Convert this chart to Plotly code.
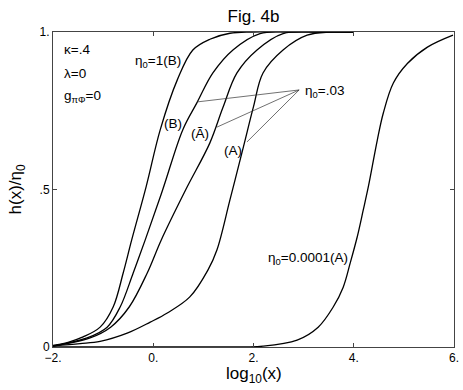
import plotly.graph_objects as go

# curves: log10(x) vs h(x)/eta0
x_eta1_B = [-2.0, -1.70, -1.40, -1.06, -0.80, -0.60, -0.43, -0.14, 0.14, 0.48, 0.79, 1.13, 1.53, 2.0, 4.0]
y_eta1_B = [0.005, 0.015, 0.032, 0.063, 0.127, 0.235, 0.34, 0.51, 0.69, 0.848, 0.943, 0.977, 0.996, 1.0, 1.0]

x_eta03_B = [-2.0, -1.32, -0.92, -0.66, -0.40, -0.16, 0.19, 0.59, 0.87, 1.19, 1.59, 2.13, 2.73, 4.0]
y_eta03_B = [0.003, 0.029, 0.063, 0.127, 0.235, 0.34, 0.50, 0.69, 0.775, 0.87, 0.943, 0.995, 1.0, 1.0]

x_eta03_At = [-2.0, -1.26, -0.85, -0.48, -0.12, 0.16, 0.65, 1.13, 1.39, 1.67, 2.07, 2.59, 3.33, 4.0]
y_eta03_At = [0.003, 0.029, 0.063, 0.127, 0.235, 0.34, 0.50, 0.648, 0.76, 0.87, 0.943, 0.995, 1.0, 1.0]

x_eta03_A = [-2.0, -1.46, -1.06, -0.52, -0.06, 0.28, 0.73, 1.09, 1.27, 1.53, 1.80, 2.0, 2.19, 2.59, 3.07, 3.53, 4.0]
y_eta03_A = [0.004, 0.011, 0.018, 0.044, 0.079, 0.108, 0.159, 0.244, 0.308, 0.467, 0.636, 0.763, 0.87, 0.943, 0.99, 1.0, 1.0]

x_eta0001_A = [-2.0, 1.07, 2.19, 2.87, 3.29, 3.59, 3.79, 3.93, 4.07, 4.19, 4.29, 4.47, 4.59, 4.79, 5.07, 5.47, 5.98]
y_eta0001_A = [0.0, 0.0, 0.003, 0.022, 0.063, 0.127, 0.19, 0.267, 0.35, 0.435, 0.508, 0.657, 0.743, 0.838, 0.90, 0.952, 0.99]

curves = [
    (x_eta1_B, y_eta1_B),
    (x_eta03_B, y_eta03_B),
    (x_eta03_At, y_eta03_At),
    (x_eta03_A, y_eta03_A),
    (x_eta0001_A, y_eta0001_A),
]

# pointer lines from the eta0=.03 label to its three curves
pointer_apex = (2.91, 0.816)
pointer_ends = [(0.874, 0.778), (1.27, 0.698), (1.87, 0.651)]

x_tickvals = [-2, 0, 2, 4, 6]
x_ticktext = ["\u22122.", "0.", "2.", "4.", "6."]
y_tickvals = [0, 0.5, 1]
y_ticktext = ["0", ".5", "1."]

FONT = "Liberation Sans, Arial, sans-serif"
LABEL_SIZE = 13.5

fig = go.Figure()
for xs, ys in curves:
    fig.add_trace(go.Scatter(x=xs, y=ys, mode="lines",
                             line=dict(color="black", width=1.3, shape="spline", smoothing=1.0),
                             hoverinfo="skip"))

for ex, ey in pointer_ends:
    fig.add_trace(go.Scatter(x=[pointer_apex[0], ex], y=[pointer_apex[1], ey], mode="lines",
                             line=dict(color="#333", width=0.7), hoverinfo="skip"))

labels = [
    (-1.82, 0.943, "\u03ba=.4"),
    (-1.82, 0.867, "\u03bb=0"),
    (-1.82, 0.795, "g<sub>\u03c0\u03a6</sub>=0"),
    (-0.40, 0.905, "\u03b7<sub>0</sub>=1(B)"),
    (2.99, 0.81, "\u03b7<sub>0</sub>=.03"),
    (2.25, 0.28, "\u03b7<sub>0</sub>=0.0001(A)"),
]
for lx, ly, txt in labels:
    fig.add_annotation(x=lx, y=ly, text=txt, showarrow=False, xanchor="left", yanchor="middle",
                       font=dict(size=LABEL_SIZE, color="black", family=FONT))

for lx, ly, txt in [(0.395, 0.711, "(B)"), (0.934, 0.679, "(\u00c3)"), (1.593, 0.625, "(A)")]:
    fig.add_annotation(x=lx, y=ly, text=txt, showarrow=False, xanchor="center", yanchor="middle",
                       font=dict(size=LABEL_SIZE, color="black", family=FONT))

# axis titles placed by hand so the margins stay fixed
fig.add_annotation(x=0.5, y=-0.09, xref="paper", yref="paper", text="log<sub>10</sub>(x)",
                   showarrow=False, xanchor="center", yanchor="middle",
                   font=dict(size=17, color="black", family=FONT))
fig.add_annotation(x=-0.09, y=0.5, xref="paper", yref="paper", text="h(x)/\u03b7<sub>0</sub>",
                   showarrow=False, xanchor="center", yanchor="middle", textangle=-90,
                   font=dict(size=17, color="black", family=FONT))

fig.update_layout(
    width=463, height=390,
    margin=dict(l=53, r=9, t=32, b=43, autoexpand=False),
    paper_bgcolor="white", plot_bgcolor="white",
    showlegend=False,
    font=dict(family=FONT, color="black"),
    title=dict(text="Fig. 4b", x=0.5476, xanchor="center", y=0.96, yanchor="middle",
               font=dict(size=17, family=FONT)),
    xaxis=dict(range=[-2, 6], tickvals=x_tickvals, ticktext=x_ticktext, automargin=False,
               showgrid=False, zeroline=False, showline=True, linecolor="#444", linewidth=1,
               mirror="ticks", ticks="inside", ticklen=4, tickcolor="#444",
               tickfont=dict(size=12)),
    yaxis=dict(range=[0, 1], tickvals=y_tickvals, ticktext=y_ticktext, automargin=False,
               showgrid=False, zeroline=False, showline=True, linecolor="#444", linewidth=1,
               mirror="ticks", ticks="inside", ticklen=4, tickcolor="#444",
               tickfont=dict(size=12)),
)

# drop the page's default body margin so the figure sits at the window's corner
fig.write_html("out.html", config={"displayModeBar": False},
               post_script="document.body.style.margin='0';")
